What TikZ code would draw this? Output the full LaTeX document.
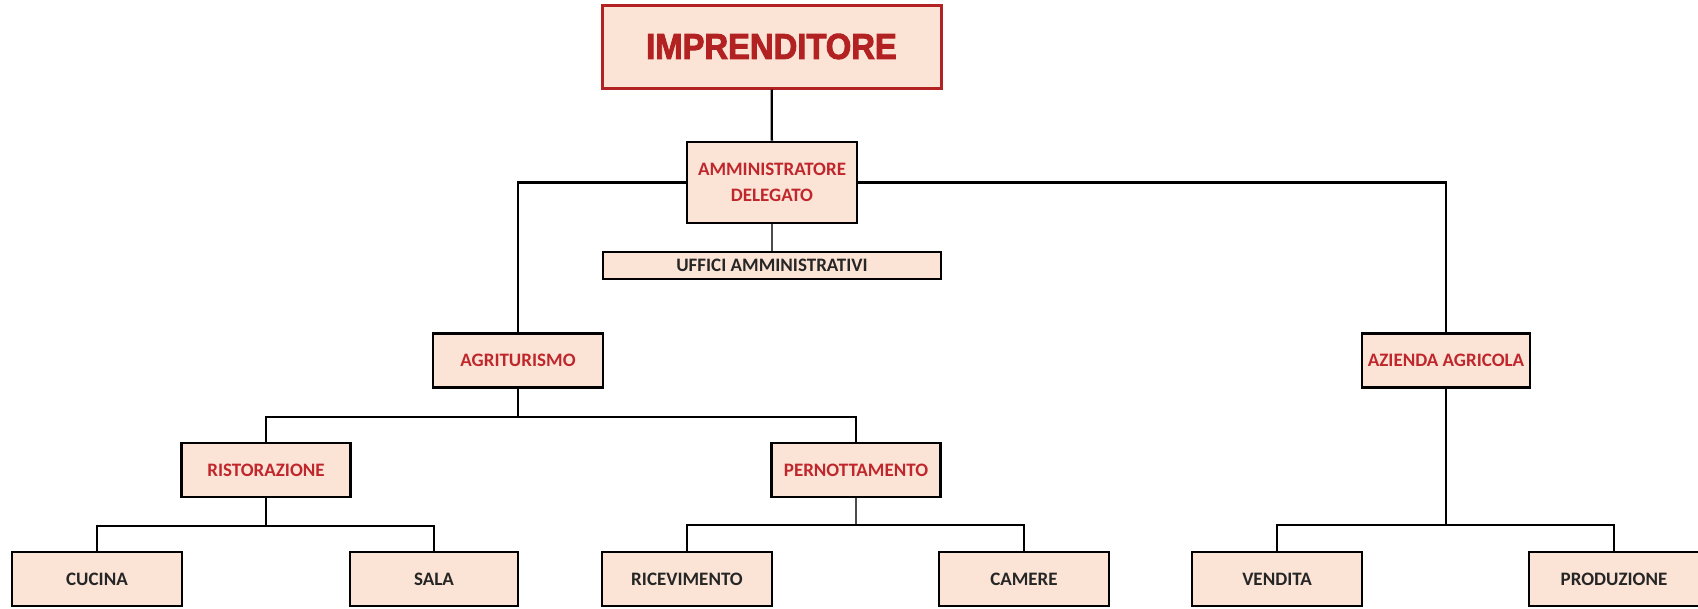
\documentclass[tikz,border=0pt]{standalone}
\usepackage{fontspec}
\setmainfont{Carlito}
\newfontfamily\titlefont[FakeStretch=0.91,FakeBold=2.5]{Liberation Sans}
\usetikzlibrary{positioning}
\definecolor{boxfill}{RGB}{251,228,213}
\definecolor{darkred}{RGB}{178,34,34}
\definecolor{labred}{RGB}{192,39,45}
\tikzset{box/.style={rectangle, draw=black, fill=boxfill, line width=2.6pt,
   minimum width=170pt, minimum height=54pt, inner sep=2pt,
   font=\fontsize{19}{26}\selectfont\bfseries, text=black!85}}
\tikzset{head/.style={box, text=labred}}
\tikzset{link/.style={line width=2.3pt}}
\tikzset{thinlink/.style={line width=1.1pt, black!70}}

\begin{document}
\begin{tikzpicture}[x=1pt, y=-1pt]

    \useasboundingbox (0,0) rectangle (1698,608);

    \node[box, draw=darkred, line width=3pt, minimum width=339pt, minimum height=83pt,
          font=\titlefont\bfseries\fontsize{36}{36}\selectfont, text=darkred] (impr) at (771.5,46.5) {IMPRENDITORE};
    \node[head, align=center, minimum height=81pt] (ammdel) at (772,182.5) {AMMINISTRATORE\\DELEGATO};
    \node[box, minimum width=338pt, minimum height=27pt] (uffici) at (772,265.5) {UFFICI AMMINISTRATIVI};

    \node[head] (agri)    at (518,360.5)  {AGRITURISMO};
    \node[head, minimum width=168pt] (azienda) at (1446,360.5) {AZIENDA AGRICOLA};

    \node[head, minimum width=169pt] (ristor)  at (266,470) {RISTORAZIONE};
    \node[head, minimum width=169pt] (pernott) at (856,470) {PERNOTTAMENTO};

    \node[box] (cucina)  at (97,579)   {CUCINA};
    \node[box, minimum width=168pt] (sala) at (434,579) {SALA};
    \node[box] (ricev)   at (687,579)  {RICEVIMENTO};
    \node[box] (camere)  at (1024,579) {CAMERE};
    \node[box] (vendita) at (1277,579) {VENDITA};
    \node[box] (produz)  at (1614,579) {PRODUZIONE};

    \draw[link] (impr) -- (ammdel);
    \draw[thinlink] (ammdel) -- (uffici);
    \draw[link] (ammdel.west) -| (agri.north);
    \draw[link] (ammdel.east) -| (azienda.north);

    \draw[link] (agri.south) -- ++(0,28) -| (ristor.north);
    \draw[link] (agri.south) -- ++(0,28) -| (pernott.north);

    \draw[link] (ristor.south) -- ++(0,28) -| (cucina.north);
    \draw[link] (ristor.south) -- ++(0,28) -| (sala.north);

    \draw[thinlink] (pernott.south) -- ++(0,28);
    \draw[link] (ricev.north) |- (camere.north |- 0,525) -- (camere.north);

    \draw[link] (azienda.south) -- ++(0,136) -| (vendita.north);
    \draw[link] (azienda.south) -- ++(0,136) -| (produz.north);

\end{tikzpicture}
\end{document}
